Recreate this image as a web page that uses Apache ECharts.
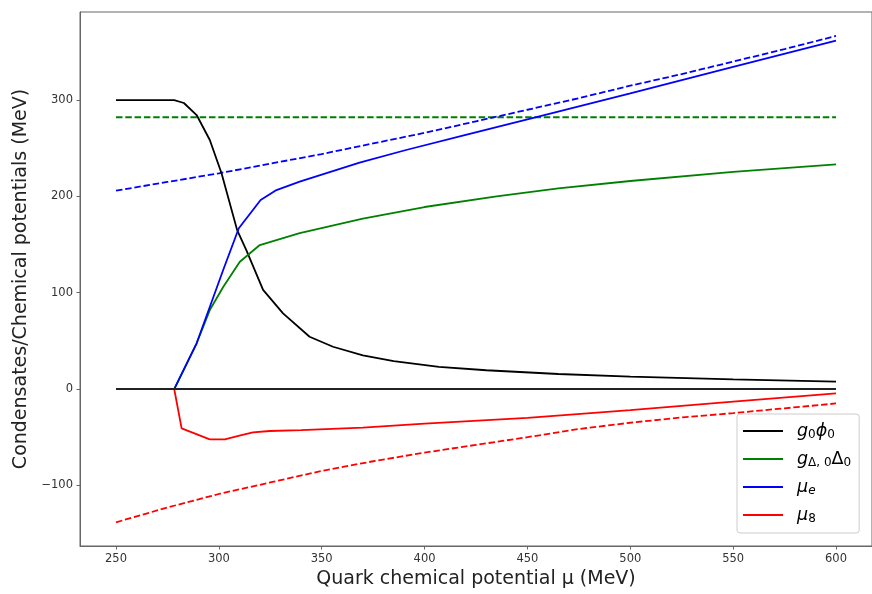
<!DOCTYPE html>
<html>
<head>
<meta charset="utf-8">
<script src="https://cdn.jsdelivr.net/npm/echarts@6/dist/echarts.min.js"></script>
<style>html,body{margin:0;padding:0;background:#fff;}#c{width:872px;height:594px;}</style>
</head>
<body>
<div id="c"></div>
<script>
// ---- data ----
const xTicks = [250, 300, 350, 400, 450, 500, 550, 600];
const yTicks = [-100, 0, 100, 200, 300];

const phiMu  = [250, 260, 270, 278.3, 283, 289.2, 295.6, 301.3, 308.9, 313.4, 321.5, 331.2, 344.1, 355.5, 370, 385, 407, 430, 465, 500, 550, 600];
const phiVal = [300, 300, 300, 300, 297, 284.5, 258.6, 224, 165, 144, 103, 78.6, 54.3, 43.9, 35, 29, 23, 19.5, 15.6, 12.8, 10, 7.6];

const delMu  = [250, 265, 278.3, 289.2, 295.6, 302.1, 310.2, 319.9, 339.3, 370, 400, 435, 465, 500, 550, 600];
const delVal = [0, 0, 0, 47.5, 82, 106, 132.2, 149.5, 162, 177, 189, 200, 208.4, 216, 225.5, 233.3];

const mueMu  = [250, 265, 278.3, 289.2, 302.1, 309.7, 320.3, 328, 339.3, 368.4, 391, 420, 450, 500, 550, 600];
const mueVal = [0, 0, 0, 47.5, 123.6, 167, 196.3, 206.6, 215.3, 235, 248.2, 264, 280, 307, 334.5, 361.7];

const mu8Mu  = [250, 265, 278.3, 281.9, 295.6, 302.9, 310, 316.6, 324.7, 340, 370, 400, 450, 500, 550, 600];
const mu8Val = [0, 0, 0, -40.8, -52.3, -52.3, -48.5, -45, -43.6, -42.6, -40, -36, -30, -22, -13, -4.6];

const delRefMu  = [250, 600];
const delRefVal = [282.2, 282.2];

const mueRefMu  = [250, 275, 300, 325, 350, 375, 400, 425, 450, 475, 500, 525, 550, 575, 600];
const mueRefVal = [206, 215, 224, 234, 244, 255, 266, 278, 290, 302, 315, 327, 340, 353, 366.6];

const mu8RefMu  = [250, 275, 300, 325, 350, 375, 400, 425, 450, 475, 500, 525, 550, 575, 600];
const mu8RefVal = [-138.4, -123, -109, -97, -85, -75, -66, -58, -50, -41.5, -35, -29.5, -25, -20, -15];

const zeroMu  = [250, 600];
const zeroVal = [0, 0];

function pairs(xs, ys) { return xs.map((x, i) => [x, ys[i]]); }

const chart = echarts.init(document.getElementById('c'), null, {renderer: 'canvas'});
const FONT = 'DejaVu Sans';

function line(name, xs, ys, color, dashed, width, z) {
  return {
    name: name, type: 'line', data: pairs(xs, ys), showSymbol: false, symbol: 'none',
    lineStyle: {color: color, width: width || 1.8, type: dashed ? [6.5, 2.8] : 'solid'},
    itemStyle: {color: color}, animation: false, z: z || 2, silent: true
  };
}

const legendNames = {
  phi: '{sp|}{i|g}{s|0}{i|ϕ}{s|0}',
  del: '{sp|}{i|g}{s|Δ, 0}{r|Δ}{s|0}',
  mue: '{sp|}{i|μ}{si|e}',
  mu8: '{sp|}{i|μ}{s|8}'
};

chart.setOption({
  animation: false,
  backgroundColor: '#fff',
  grid: {left: 80, top: 12, width: 793.4, height: 534, show: true, borderColor: '#666', borderWidth: 1, backgroundColor: 'transparent'},
  xAxis: {
    type: 'value', min: 232.5, max: 617.5,
    name: 'Quark chemical potential μ (MeV)', nameLocation: 'middle', nameGap: 21,
    nameTextStyle: {fontFamily: FONT, fontSize: 19, color: '#222'},
    axisLine: {show: true, onZero: false, lineStyle: {color: '#666', width: 1}},
    axisTick: {show: true, length: 3.5, lineStyle: {color: '#666'}, customValues: xTicks},
    axisLabel: {fontFamily: FONT, fontSize: 11.5, color: '#333', margin: 7, customValues: xTicks},
    splitLine: {show: false}
  },
  yAxis: {
    type: 'value', min: -163, max: 391.5,
    name: 'Condensates/Chemical potentials (MeV)', nameLocation: 'middle', nameGap: 44,
    nameTextStyle: {fontFamily: FONT, fontSize: 19, color: '#222'},
    axisLine: {show: true, onZero: false, lineStyle: {color: '#666', width: 1}},
    axisTick: {show: true, length: 3.5, lineStyle: {color: '#666'}, customValues: yTicks},
    axisLabel: {fontFamily: FONT, fontSize: 11.5, color: '#333', margin: 7, customValues: yTicks,
      formatter: v => String(v).replace('-', '\u2212')},
    splitLine: {show: false}
  },
  legend: {
    orient: 'vertical', left: 737, top: 414,
    data: ['phi', 'del', 'mue', 'mu8'],
    icon: 'rect', itemWidth: 40, itemHeight: 1.8, itemGap: 9,
    padding: [8, 8, 8, 6],
    backgroundColor: 'rgba(255,255,255,0.8)', borderColor: '#ccc', borderWidth: 1, borderRadius: 3,
    formatter: n => legendNames[n],
    textStyle: {
      fontFamily: FONT, color: '#000',
      rich: {
        sp: {width: 9},
        i: {fontFamily: FONT, fontStyle: 'italic', fontSize: 17.5, lineHeight: 20},
        r: {fontFamily: FONT, fontSize: 17.5, lineHeight: 20},
        s: {fontFamily: FONT, fontSize: 12, lineHeight: 14, verticalAlign: 'bottom'},
        si: {fontFamily: FONT, fontStyle: 'italic', fontSize: 12, lineHeight: 14, verticalAlign: 'bottom'}
      }
    }
  },
  series: [
    line('phi', phiMu, phiVal, '#000000', false, 1.8, 3),
    line('del', delMu, delVal, '#008000', false, 1.8, 3),
    line('mue', mueMu, mueVal, '#0000ff', false, 1.8, 3),
    line('mu8', mu8Mu, mu8Val, '#ff0000', false, 1.8, 3),
    line('delRef', delRefMu, delRefVal, '#008000', true, 1.8, 2),
    line('mueRef', mueRefMu, mueRefVal, '#0000ff', true, 1.8, 2),
    line('mu8Ref', mu8RefMu, mu8RefVal, '#ff0000', true, 1.8, 2),
    line('zero', zeroMu, zeroVal, '#222222', false, 2, 4)
  ]
});
</script>
</body>
</html>
